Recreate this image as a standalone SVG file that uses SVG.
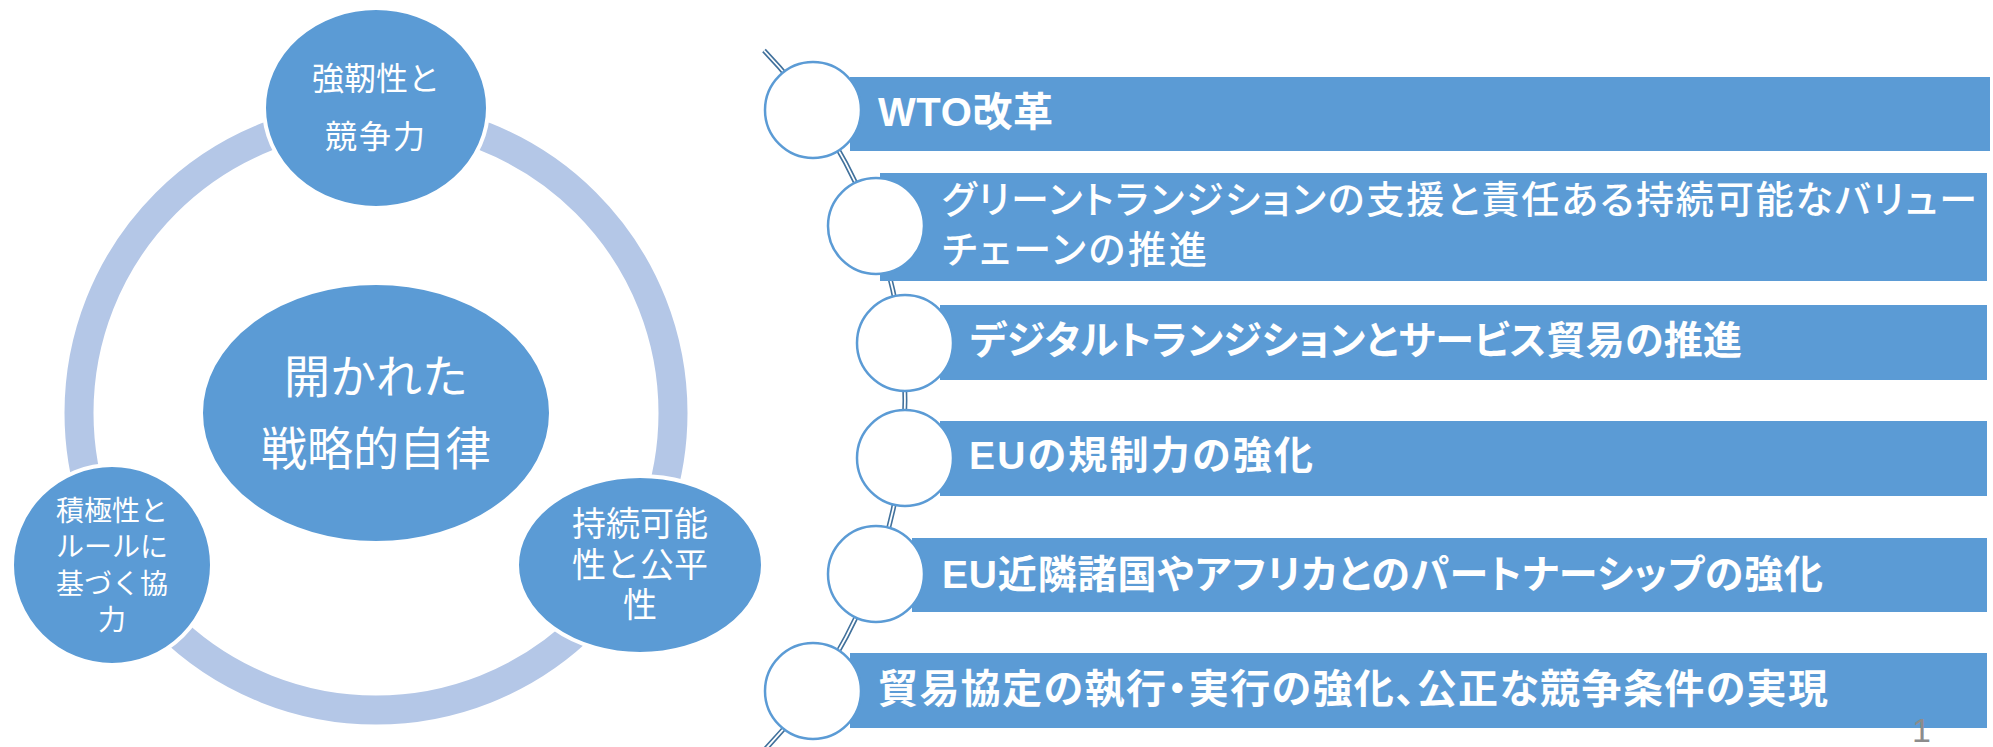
<svg xmlns="http://www.w3.org/2000/svg" width="1993" height="747" viewBox="0 0 1993 747">
  <defs>
    <style>
      .node { fill: #5B9BD5; stroke: #FFFFFF; stroke-width: 4; }
      .ntext { font-family: "Noto Sans CJK JP", sans-serif; fill: #FFFFFF; text-anchor: middle; }
      .bar { fill: #5B9BD5; }
      .dot { fill: #FFFFFF; stroke: #5B9BD5; stroke-width: 2.5; }
      .btext { font-family: "Liberation Sans", "Noto Sans CJK JP", sans-serif; fill: #FFFFFF; font-weight: bold; font-feature-settings: "palt" 1; }
      .light { font-weight: 500; }
      .ring { fill: none; stroke: #B4C7E7; stroke-width: 29; }
      .spine-out { fill: none; stroke: #41719C; stroke-width: 5; }
      .spine-in { fill: none; stroke: #FFFFFF; stroke-width: 1.8; }
    </style>
  </defs>
  <rect x="0" y="0" width="1993" height="747" fill="#FFFFFF"/>

  <g id="connectors">
    <circle class="ring" cx="376" cy="413" r="297"/>
    <path class="spine-out" d="M764,50.5 A505,505 0 0 1 764,750.5"/>
    <path class="spine-in" d="M764,50.5 A505,505 0 0 1 764,750.5"/>
  </g>

  <g id="node-center">
    <ellipse class="node" cx="376" cy="413" rx="175" ry="130"/>
    <text class="ntext" x="376" y="393" font-size="46">開かれた</text>
    <text class="ntext" x="376" y="465" font-size="46">戦略的自律</text>
  </g>

  <g id="node-top">
    <ellipse class="node" cx="376" cy="108" rx="112" ry="100"/>
    <text class="ntext" x="376" y="90" font-size="32">強靭性と</text>
    <text class="ntext" x="376" y="148" font-size="32" letter-spacing="2">競争力</text>
  </g>

  <g id="node-left">
    <ellipse class="node" cx="112" cy="565" rx="100" ry="100"/>
    <text class="ntext" x="112" y="521" font-size="28">積極性と</text>
    <text class="ntext" x="112" y="557" font-size="28">ルールに</text>
    <text class="ntext" x="112" y="594" font-size="28">基づく協</text>
    <text class="ntext" x="112" y="630" font-size="28">力</text>
  </g>

  <g id="node-right">
    <ellipse class="node" cx="640" cy="565" rx="123" ry="89"/>
    <text class="ntext" x="640" y="536" font-size="34">持続可能</text>
    <text class="ntext" x="640" y="577" font-size="34">性と公平</text>
    <text class="ntext" x="640" y="617" font-size="34">性</text>
  </g>

  <g id="item-1">
    <rect class="bar" x="850" y="77" width="1140" height="74"/>
    <circle class="dot" cx="813" cy="110" r="48"/>
    <text class="btext" x="878" y="126" font-size="40" textLength="175" lengthAdjust="spacing">WTO改革</text>
  </g>

  <g id="item-2">
    <rect class="bar" x="880" y="173" width="1107" height="108"/>
    <circle class="dot" cx="876" cy="226" r="48"/>
    <text class="btext light" x="942" y="213" font-size="38" textLength="1035" lengthAdjust="spacing">グリーントランジションの支援と責任ある持続可能なバリュー</text>
    <text class="btext light" x="942" y="263" font-size="38" textLength="265" lengthAdjust="spacing">チェーンの推進</text>
  </g>

  <g id="item-3">
    <rect class="bar" x="940" y="305" width="1047" height="75"/>
    <circle class="dot" cx="905" cy="343" r="48"/>
    <text class="btext" x="970" y="354" font-size="39" textLength="772" lengthAdjust="spacing">デジタルトランジションとサービス貿易の推進</text>
  </g>

  <g id="item-4">
    <rect class="bar" x="940" y="421" width="1047" height="75"/>
    <circle class="dot" cx="905" cy="458" r="48"/>
    <text class="btext" x="969" y="469" font-size="39" textLength="344" lengthAdjust="spacing">EUの規制力の強化</text>
  </g>

  <g id="item-5">
    <rect class="bar" x="912" y="538" width="1075" height="74"/>
    <circle class="dot" cx="876" cy="574" r="48"/>
    <text class="btext" x="942" y="588" font-size="39" textLength="881" lengthAdjust="spacing">EU近隣諸国やアフリカとのパートナーシップの強化</text>
  </g>

  <g id="item-6">
    <rect class="bar" x="850" y="653" width="1137" height="75"/>
    <circle class="dot" cx="813" cy="691" r="48"/>
    <text class="btext" x="878" y="703" font-size="40" textLength="950" lengthAdjust="spacing">貿易協定の執行・実行の強化、公正な競争条件の実現</text>
  </g>

  <text id="page-number" x="1912" y="742" font-family="Liberation Sans, sans-serif" font-size="34" fill="#8C8C8C">1</text>
</svg>
